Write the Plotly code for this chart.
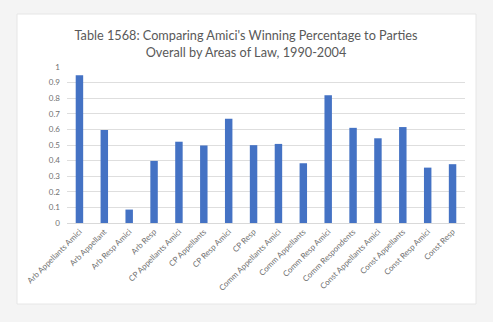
import plotly.graph_objects as go

categories = ["Arb Appellants Amici", "Arb Appellant", "Arb Resp Amici", "Arb Resp",
              "CP Appellants Amici", "CP Appellants", "CP Resp Amici", "CP Resp",
              "Comm Appellants Amici", "Comm Appellants", "Comm Resp Amici", "Comm Respondents",
              "Const Appellants Amici", "Const Appellants", "Const Resp Amici", "Const Resp"]
values = [0.947, 0.596, 0.086, 0.398, 0.521, 0.497, 0.669, 0.499,
          0.507, 0.383, 0.819, 0.610, 0.543, 0.615, 0.355, 0.377]
y_ticks = [0, 0.1, 0.2, 0.3, 0.4, 0.5, 0.6, 0.7, 0.8, 0.9, 1]
y_tick_labels = ["0", "0.1", "0.2", "0.3", "0.4", "0.5", "0.6", "0.7", "0.8", "0.9", "1"]

W, H = 493, 322
L, R, T, B = 67, 28, 67, 99
pw, ph = W - L - R, H - T - B

def px(x):
    return (x - L) / pw

def py(y):
    return (H - B - y) / ph

fig = go.Figure(go.Bar(x=categories, y=values, marker_color="#4472C4", marker_line_width=0))

fig.add_shape(type="rect", xref="paper", yref="paper",
              x0=px(17), x1=px(476), y0=py(304), y1=py(14),
              fillcolor="white", line=dict(color="#e6e6e6", width=1), layer="below")

fig.update_layout(
    width=W, height=H,
    margin=dict(l=L, r=R, t=T, b=B),
    paper_bgcolor="#f4f4f4", plot_bgcolor="rgba(0,0,0,0)",
    bargap=0.7,
    showlegend=False,
    font=dict(family="Lato, Open Sans, sans-serif", color="#595959"),
    title=dict(text="Table 1568: Comparing Amici's Winning Percentage to Parties<br>Overall by Areas of Law, 1990-2004",
               x=246 / W, xref="container", xanchor="center", y=1 - 40 / H, yanchor="middle",
               font=dict(size=12.7, color="#595959")),
    xaxis=dict(tickangle=-45, tickfont=dict(size=8, color="#707070"),
               showline=True, linecolor="#d9d9d9", linewidth=1, ticks="",
               showgrid=False),
    yaxis=dict(range=[0, 1], tickvals=y_ticks, ticktext=y_tick_labels,
               tickfont=dict(size=8, color="#707070"),
               gridcolor="#dedede", gridwidth=1, zeroline=False, showline=False,
               ticks="", ticklabelstandoff=6),
)

fig.write_html("out.html")
